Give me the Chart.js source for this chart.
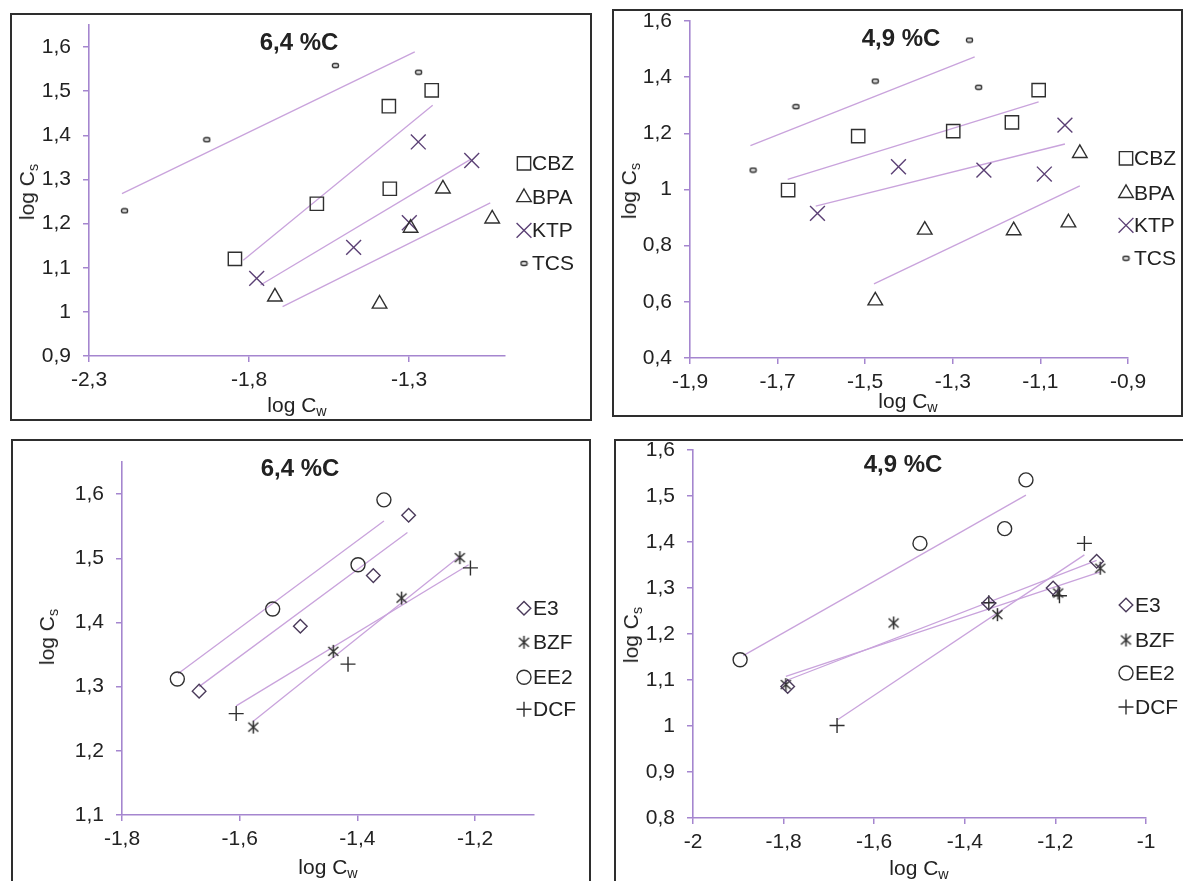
<!DOCTYPE html>
<html>
<head>
<meta charset="utf-8">
<script src="https://cdn.jsdelivr.net/npm/chart.js@4.4.0/dist/chart.umd.min.js"></script>
<style>
  body { margin: 0; width: 1183px; height: 881px; overflow: hidden; background: #fff; position: relative;
         font-family: "Liberation Sans", Arial, sans-serif; color: #222; }
  .frame { position: absolute; border: 2px solid #2e2e2e; box-sizing: border-box; }
  canvas { position: absolute; }
  .lbl { position: absolute; transform: translate(-50%, -50%); white-space: nowrap; font-size: 21px; }
  .ttl { font-weight: bold; font-size: 24px; }
  .rot { transform: translate(-50%, -50%) rotate(-90deg); }
  sub { font-size: 68%; vertical-align: -0.3em; line-height: 0; }
</style>
</head>
<body>
<script>
// series names
const seriesTop = ['CBZ', 'BPA', 'KTP', 'TCS'];
const seriesBottom = ['E3', 'BZF', 'EE2', 'DCF'];
const panelTitles = ['6,4 %C', '4,9 %C', '6,4 %C', '4,9 %C'];

// panel 1 : 6,4 %C (log Cw, log Cs)
const cbz64 = [[-1.844, 1.120], [-1.588, 1.245], [-1.363, 1.466], [-1.360, 1.279], [-1.229, 1.502]];
const bpa64 = [[-1.719, 1.034], [-1.392, 1.018], [-1.295, 1.190], [-1.194, 1.279], [-1.040, 1.211]];
const ktp64 = [[-1.776, 1.076], [-1.473, 1.146], [-1.299, 1.202], [-1.271, 1.385], [-1.104, 1.343]];
const tcs64 = [[-2.189, 1.229], [-1.932, 1.390], [-1.530, 1.558], [-1.270, 1.543]];
const cbz64Fit = [[-1.818, 1.117], [-1.226, 1.468]];
const bpa64Fit = [[-1.695, 1.012], [-1.046, 1.247]];
const ktp64Fit = [[-1.764, 1.061], [-1.109, 1.345]];
const tcs64Fit = [[-2.197, 1.268], [-1.282, 1.589]];
const xTicks1 = [-2.3, -1.8, -1.3];
const yTicks1 = [0.9, 1.0, 1.1, 1.2, 1.3, 1.4, 1.5, 1.6];

// panel 2 : 4,9 %C
const cbz49 = [[-1.676, 0.998], [-1.516, 1.190], [-1.299, 1.208], [-1.165, 1.239], [-1.104, 1.354]];
const bpa49 = [[-1.477, 0.604], [-1.364, 0.856], [-1.161, 0.854], [-1.036, 0.882], [-1.010, 1.129]];
const ktp49 = [[-1.609, 0.915], [-1.424, 1.081], [-1.229, 1.069], [-1.091, 1.055], [-1.044, 1.229]];
const tcs49 = [[-1.756, 1.069], [-1.658, 1.295], [-1.477, 1.386], [-1.262, 1.532], [-1.241, 1.364]];
const cbz49Fit = [[-1.677, 1.036], [-1.104, 1.312]];
const bpa49Fit = [[-1.480, 0.664], [-1.010, 1.013]];
const ktp49Fit = [[-1.613, 0.941], [-1.044, 1.162]];
const tcs49Fit = [[-1.762, 1.156], [-1.250, 1.472]];
const xTicks2 = [-1.9, -1.7, -1.5, -1.3, -1.1, -0.9];
const yTicks2 = [0.4, 0.6, 0.8, 1.0, 1.2, 1.4, 1.6];

// panel 3 : 6,4 %C
const e364 = [[-1.669, 1.293], [-1.497, 1.394], [-1.373, 1.473], [-1.313, 1.567]];
const bzf64 = [[-1.577, 1.237], [-1.441, 1.355], [-1.325, 1.438], [-1.226, 1.501]];
const ee264 = [[-1.706, 1.312], [-1.544, 1.421], [-1.399, 1.490], [-1.355, 1.591]];
const dcf64 = [[-1.606, 1.258], [-1.416, 1.335], [-1.208, 1.485]];
const e364Fit = [[-1.669, 1.300], [-1.315, 1.540]];
const bzf64Fit = [[-1.577, 1.246], [-1.226, 1.503]];
const ee264Fit = [[-1.705, 1.320], [-1.355, 1.558]];
const dcf64Fit = [[-1.606, 1.270], [-1.211, 1.490]];
const xTicks3 = [-1.8, -1.6, -1.4, -1.2];
const yTicks3 = [1.1, 1.2, 1.3, 1.4, 1.5, 1.6];

// panel 4 : 4,9 %C
const e349 = [[-1.791, 1.086], [-1.347, 1.267], [-1.205, 1.300], [-1.109, 1.358]];
const bzf49 = [[-1.795, 1.090], [-1.557, 1.224], [-1.328, 1.242], [-1.194, 1.289], [-1.101, 1.343]];
const ee249 = [[-1.896, 1.144], [-1.499, 1.397], [-1.312, 1.429], [-1.265, 1.535]];
const dcf49 = [[-1.682, 1.001], [-1.347, 1.268], [-1.191, 1.283], [-1.136, 1.397]];
const e349Fit = [[-1.791, 1.100], [-1.109, 1.360]];
const bzf49Fit = [[-1.795, 1.108], [-1.101, 1.335]];
const ee249Fit = [[-1.889, 1.153], [-1.265, 1.502]];
const dcf49Fit = [[-1.680, 1.014], [-1.136, 1.372]];
const xTicks4 = [-2.0, -1.8, -1.6, -1.4, -1.2, -1.0];
const yTicks4 = [0.8, 0.9, 1.0, 1.1, 1.2, 1.3, 1.4, 1.5, 1.6];

const AXIS = '#a586cf';
const FIT = '#c9a3dc';
const INK = '#2f2f2f';

Chart.defaults.font.family = '"Liberation Sans", Arial, sans-serif';

function makeMark(w, h, draw) {
  const c = document.createElement('canvas');
  c.width = w; c.height = h;
  const g = c.getContext('2d');
  g.strokeStyle = INK; g.lineWidth = 1.4;
  draw(g);
  return c;
}
// small rounded dash used for TCS
const dashMark = makeMark(9, 7, function(g) {
  g.beginPath();
  if (g.roundRect) g.roundRect(1.5, 1.5, 6, 4, 1.5); else g.rect(1.5, 1.5, 6, 4);
  g.fillStyle = '#e6e6e6'; g.fill(); g.stroke();
});
// excel style asterisk used for BZF
const starMark = makeMark(15, 15, function(g) {
  g.lineWidth = 1.5;
  g.beginPath();
  g.moveTo(7.5, 1); g.lineTo(7.5, 14);
  g.moveTo(2.5, 3); g.lineTo(12.5, 12);
  g.moveTo(12.5, 3); g.lineTo(2.5, 12);
  g.stroke();
});

const markStyle = {
  CBZ: { pointStyle: 'rect', radius: 9.4, color: INK },
  BPA: { pointStyle: 'triangle', radius: 8.4, color: INK },
  KTP: { pointStyle: 'crossRot', radius: 10.5, color: '#5b4075' },
  TCS: { pointStyle: dashMark, radius: 5, color: INK },
  E3:  { pointStyle: 'rectRot', radius: 6.8, color: '#4a3a5a' },
  BZF: { pointStyle: starMark, radius: 7, color: INK },
  EE2: { pointStyle: 'circle', radius: 7, color: INK },
  DCF: { pointStyle: 'cross', radius: 7.5, color: INK }
};

function fmtTick(v) {
  return String(Number(v.toFixed(2))).replace('.', ',');
}

const sideLegend = {
  id: 'sideLegend',
  afterDraw(chart, args, opts) {
    const ctx = chart.ctx;
    opts.items.forEach(function(name, i) {
      const st = markStyle[name];
      ctx.save();
      ctx.strokeStyle = st.color;
      ctx.fillStyle = 'rgba(0,0,0,0)';
      ctx.lineWidth = 1.4;
      Chart.helpers.drawPoint(ctx, { pointStyle: st.pointStyle, radius: st.radius, rotation: 0, borderWidth: 1.4 }, opts.mx, opts.ys[i]);
      ctx.fillStyle = '#222';
      ctx.font = '21px "Liberation Sans", Arial, sans-serif';
      ctx.textBaseline = 'middle';
      ctx.fillText(name, opts.tx, opts.ys[i] + 1);
      ctx.restore();
    });
  }
};

function addLabel(html, x, y, cls) {
  const d = document.createElement('div');
  d.className = 'lbl ' + (cls || '');
  d.innerHTML = html;
  d.style.left = x + 'px'; d.style.top = y + 'px';
  document.body.appendChild(d);
}

function buildPanel(p) {
  const fr = document.createElement('div');
  fr.className = 'frame';
  fr.style.left = p.frame[0] + 'px'; fr.style.top = p.frame[1] + 'px';
  fr.style.width = p.frame[2] + 'px'; fr.style.height = p.frame[3] + 'px';
  document.body.appendChild(fr);

  const cl = p.frame[0] + 2, ct = p.area.T - 25;
  const cw = p.frame[2] - 4, ch = (p.area.B + 60) - ct;
  const cv = document.createElement('canvas');
  cv.width = cw; cv.height = ch;
  cv.style.left = cl + 'px'; cv.style.top = ct + 'px';
  document.body.appendChild(cv);

  const datasets = [];
  p.names.forEach(function(name, i) {
    const st = markStyle[name];
    datasets.push({
      label: name,
      data: p.points[i].map(function(q) { return { x: q[0], y: q[1] }; }),
      pointStyle: st.pointStyle, pointRadius: st.radius,
      pointBorderColor: st.color, pointBackgroundColor: 'rgba(0,0,0,0)', pointBorderWidth: 1.4,
      showLine: false
    });
  });
  p.fits.forEach(function(f) {
    datasets.push({
      data: f.map(function(q) { return { x: q[0], y: q[1] }; }),
      showLine: true, borderColor: FIT, borderWidth: 1.3, pointRadius: 0, fill: false
    });
  });

  const tickFont = { size: 21 };
  new Chart(cv.getContext('2d'), {
    type: 'scatter',
    data: { datasets: datasets },
    options: {
      responsive: false, animation: false, devicePixelRatio: 1,
      layout: { padding: { left: 0, top: 25, right: cl + cw - p.area.R, bottom: 0 } },
      plugins: {
        legend: { display: false }, tooltip: { enabled: false },
        sideLegend: { items: p.names, mx: p.legend.mx - cl, tx: p.legend.tx - cl, ys: p.legend.ys.map(function(y) { return y - ct; }) }
      },
      scales: {
        x: {
          type: 'linear', min: p.xRange[0], max: p.xRange[1],
          afterBuildTicks: function(sc) { sc.ticks = p.xTicks.map(function(v) { return { value: v }; }); },
          afterFit: function(sc) { sc.height = 60; },
          ticks: { callback: fmtTick, font: tickFont, color: '#222', padding: 6, maxRotation: 0, autoSkip: false },
          grid: { drawOnChartArea: false, drawTicks: true, tickLength: 6, color: AXIS, lineWidth: 1.5 },
          border: { display: true, color: AXIS, width: 1.6 }
        },
        y: {
          type: 'linear', min: p.yRange[0], max: p.yRange[1],
          afterBuildTicks: function(sc) { sc.ticks = p.yTicks.map(function(v) { return { value: v }; }); },
          afterFit: function(sc) { sc.width = p.area.L - cl; },
          ticks: { callback: fmtTick, font: tickFont, color: '#222', padding: 12, autoSkip: false },
          grid: { drawOnChartArea: false, drawTicks: true, tickLength: 6, color: AXIS, lineWidth: 1.5 },
          border: { display: true, color: AXIS, width: 1.6 }
        }
      }
    },
    plugins: [sideLegend]
  });

  addLabel(p.title, p.titlePos[0], p.titlePos[1], 'ttl');
  addLabel('log C<sub>w</sub>', p.xTitlePos[0], p.xTitlePos[1]);
  addLabel('log C<sub>s</sub>', p.yTitlePos[0], p.yTitlePos[1], 'rot');
}

buildPanel({
  frame: [10, 13, 582, 408], area: { L: 89, R: 505, T: 24.6, B: 356 },
  xRange: [-2.3, -1.0], yRange: [0.9, 1.65], xTicks: xTicks1, yTicks: yTicks1,
  names: seriesTop, points: [cbz64, bpa64, ktp64, tcs64], fits: [tcs64Fit, cbz64Fit, ktp64Fit, bpa64Fit],
  legend: { mx: 524, tx: 532, ys: [163, 197, 230, 263] },
  title: panelTitles[0], titlePos: [299, 42], xTitlePos: [297, 405], yTitlePos: [27, 192]
});
buildPanel({
  frame: [612, 9, 571, 408], area: { L: 690, R: 1128, T: 20.7, B: 358 },
  xRange: [-1.9, -0.9], yRange: [0.4, 1.6], xTicks: xTicks2, yTicks: yTicks2,
  names: seriesTop, points: [cbz49, bpa49, ktp49, tcs49], fits: [tcs49Fit, cbz49Fit, ktp49Fit, bpa49Fit],
  legend: { mx: 1126, tx: 1134, ys: [158, 193, 225, 258] },
  title: panelTitles[1], titlePos: [901, 38], xTitlePos: [908, 401], yTitlePos: [629, 191]
});
buildPanel({
  frame: [11, 439, 580, 460], area: { L: 122, R: 534, T: 461.7, B: 815 },
  xRange: [-1.8, -1.1], yRange: [1.1, 1.65], xTicks: xTicks3, yTicks: yTicks3,
  names: seriesBottom, points: [e364, bzf64, ee264, dcf64], fits: [ee264Fit, e364Fit, bzf64Fit, dcf64Fit],
  legend: { mx: 524, tx: 533, ys: [608, 642, 677, 709] },
  title: panelTitles[2], titlePos: [300, 468], xTitlePos: [328, 867], yTitlePos: [47, 637]
});
buildPanel({
  frame: [614, 439, 572, 460], area: { L: 693, R: 1146, T: 450, B: 818 },
  xRange: [-2.0, -1.0], yRange: [0.8, 1.6], xTicks: xTicks4, yTicks: yTicks4,
  names: seriesBottom, points: [e349, bzf49, ee249, dcf49], fits: [ee249Fit, e349Fit, bzf49Fit, dcf49Fit],
  legend: { mx: 1126, tx: 1135, ys: [605, 640, 673, 707] },
  title: panelTitles[3], titlePos: [903, 464], xTitlePos: [919, 868], yTitlePos: [631, 635]
});
</script>
</body>
</html>
